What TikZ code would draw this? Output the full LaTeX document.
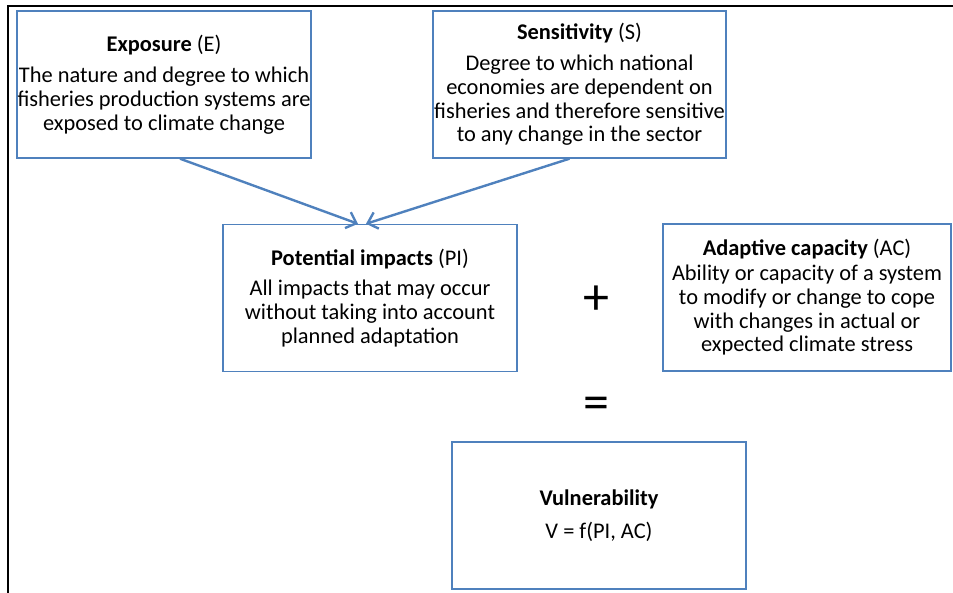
\documentclass[tikz,border=0pt]{standalone}
\usepackage{fontspec}
\setmainfont{Carlito}
\usetikzlibrary{arrows.meta,positioning}
\definecolor{boxblue}{HTML}{4F81BD}

\begin{document}
\begin{tikzpicture}[x=1pt,y=-1pt,
	box/.style={draw=boxblue,line width=1.4pt,minimum width=294pt,minimum height=147pt,
		align=center,inner sep=0pt,font=\fontsize{22.4}{23.8}\selectfont},
	arr/.style={draw=boxblue,line width=2.4pt,-{Straight Barb[length=9pt,width=17pt,line width=2.4pt]}},
	sign/.style={font=\fontsize{52}{52}\selectfont}]
	\useasboundingbox (0,0) rectangle (953,593);
	\draw[line width=2.5pt] (8,593) -- (8,6) -- (953,6);
	\node[box] (expo) at (164,84.5) {\textbf{Exposure} (E)\\[8pt]The nature and degree to which\\fisheries production systems are\\exposed to climate change};
	\node[box,minimum width=293pt] (sens) at (579.5,84.5) {\textbf{Sensitivity} (S)\\[7pt]Degree to which national\\economies are dependent on\\fisheries and therefore sensitive\\to any change in the sector};
	\node[box] (pi) at (370,298) {\textbf{Potential impacts} (PI)\\[6pt]All impacts that may occur\\without taking into account\\planned adaptation};
	\node[box,minimum width=288pt] (ac) at (807,297.5) {\textbf{Adaptive capacity} (AC)\\[1pt]Ability or capacity of a system\\to modify or change to cope\\with changes in actual or\\expected climate stress};
	\node[box] (vul) at (599,515.5) {\textbf{Vulnerability}\\[9pt]V = f(PI, AC)};
	\node[sign] (plus) at (596,300) {+};
	\node[sign] (eq) at (596,408) {=};
	\draw[arr] ([xshift=16pt]expo.south) -- ([xshift=-12pt]pi.north);
	\draw[arr] ([xshift=-10pt]sens.south) -- ([xshift=-4pt]pi.north);
\end{tikzpicture}
\end{document}
